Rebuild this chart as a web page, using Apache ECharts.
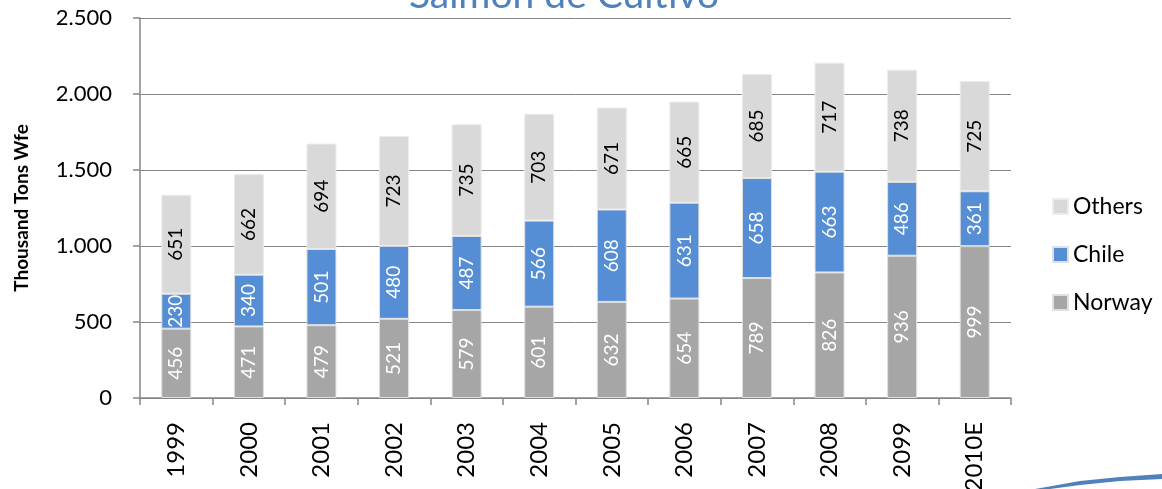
<!DOCTYPE html>
<html>
<head>
<meta charset="utf-8">
<script src="https://cdn.jsdelivr.net/npm/echarts@6/dist/echarts.min.js"></script>
<style>
  html, body { margin: 0; padding: 0; background: #fff; }
  #main { width: 1162px; height: 489px; }
</style>
</head>
<body>
<div id="main"></div>
<script>
var years = ['1999', '2000', '2001', '2002', '2003', '2004', '2005', '2006', '2007', '2008', '2099', '2010E'];
var norway = [456, 471, 479, 521, 579, 601, 632, 654, 789, 826, 936, 999];
var chile = [230, 340, 501, 480, 487, 566, 608, 631, 658, 663, 486, 361];
var others = [651, 662, 694, 723, 735, 703, 671, 665, 685, 717, 738, 725];

var FONT = 'Lato, "Open Sans", sans-serif';

var chart = echarts.init(document.getElementById('main'));

// etiqueta vertical dentro de cada tramo
function barLabel(color) {
  return {
    show: true,
    position: 'inside',
    rotate: 90,
    color: color,
    fontSize: 19,
    fontFamily: FONT
  };
}

var option = {
  animation: false,
  textStyle: { fontFamily: FONT },
  title: {
    text: 'Salmon de Cultivo',
    left: 559,
    textAlign: 'center',
    top: -29,
    textStyle: { color: '#4f81bd', fontSize: 39, fontWeight: 'normal', fontFamily: FONT }
  },
  legend: {
    data: ['Others', 'Chile', 'Norway'],
    orient: 'vertical',
    left: 1047,
    top: 190,
    itemWidth: 15,
    itemHeight: 15,
    itemGap: 25,
    icon: 'rect',
    textStyle: { fontSize: 23, color: '#000', fontFamily: FONT }
  },
  grid: {
    left: 140,
    right: 151,
    top: 18,
    bottom: 91,
    outerBoundsMode: 'none'
  },
  xAxis: {
    type: 'category',
    data: years,
    axisLine: { lineStyle: { color: '#868686', width: 1.5 } },
    axisTick: { show: true, length: 7, lineStyle: { color: '#868686', width: 1.5 } },
    axisLabel: { rotate: 90, fontSize: 24, color: '#000', margin: 24, fontFamily: FONT }
  },
  yAxis: {
    type: 'value',
    min: 0,
    max: 2500,
    interval: 500,
    name: 'Thousand Tons Wfe',
    nameLocation: 'middle',
    nameGap: 109,
    nameTextStyle: { fontSize: 19, fontWeight: 'bold', color: '#000', fontFamily: FONT },
    axisLine: { show: true, lineStyle: { color: '#868686', width: 1.5 } },
    axisTick: { show: true, length: 7, lineStyle: { color: '#868686', width: 1.5 } },
    splitLine: { lineStyle: { color: '#868686', width: 1 } },
    axisLabel: {
      fontSize: 22,
      color: '#000',
      margin: 28,
      fontFamily: FONT,
      formatter: function (v) {
        return String(v).replace(/\B(?=(\d{3})+(?!\d))/g, '.');
      }
    }
  },
  series: [
    {
      name: 'Norway',
      type: 'bar',
      stack: 'total',
      barWidth: 30,
      data: norway,
      itemStyle: { color: '#a6a6a6', borderColor: '#e0e0e0', borderWidth: 1 },
      label: barLabel('#fff')
    },
    {
      name: 'Chile',
      type: 'bar',
      stack: 'total',
      barWidth: 30,
      data: chile,
      itemStyle: { color: '#558ed5', borderColor: '#e0e0e0', borderWidth: 1 },
      label: barLabel('#fff')
    },
    {
      name: 'Others',
      type: 'bar',
      stack: 'total',
      barWidth: 30,
      data: others,
      itemStyle: { color: '#d9d9d9', borderColor: '#ececec', borderWidth: 1 },
      label: barLabel('#000')
    }
  ],
  // trazo azul decorativo abajo a la derecha
  graphic: [
    {
      type: 'polygon',
      shape: {
        points: [[1035, 489], [1080, 481], [1120, 477], [1162, 474], [1162, 479], [1120, 481], [1080, 485], [1050, 489]]
      },
      style: { fill: '#4f81bd' },
      silent: true
    }
  ]
};

chart.setOption(option);
</script>
</body>
</html>
